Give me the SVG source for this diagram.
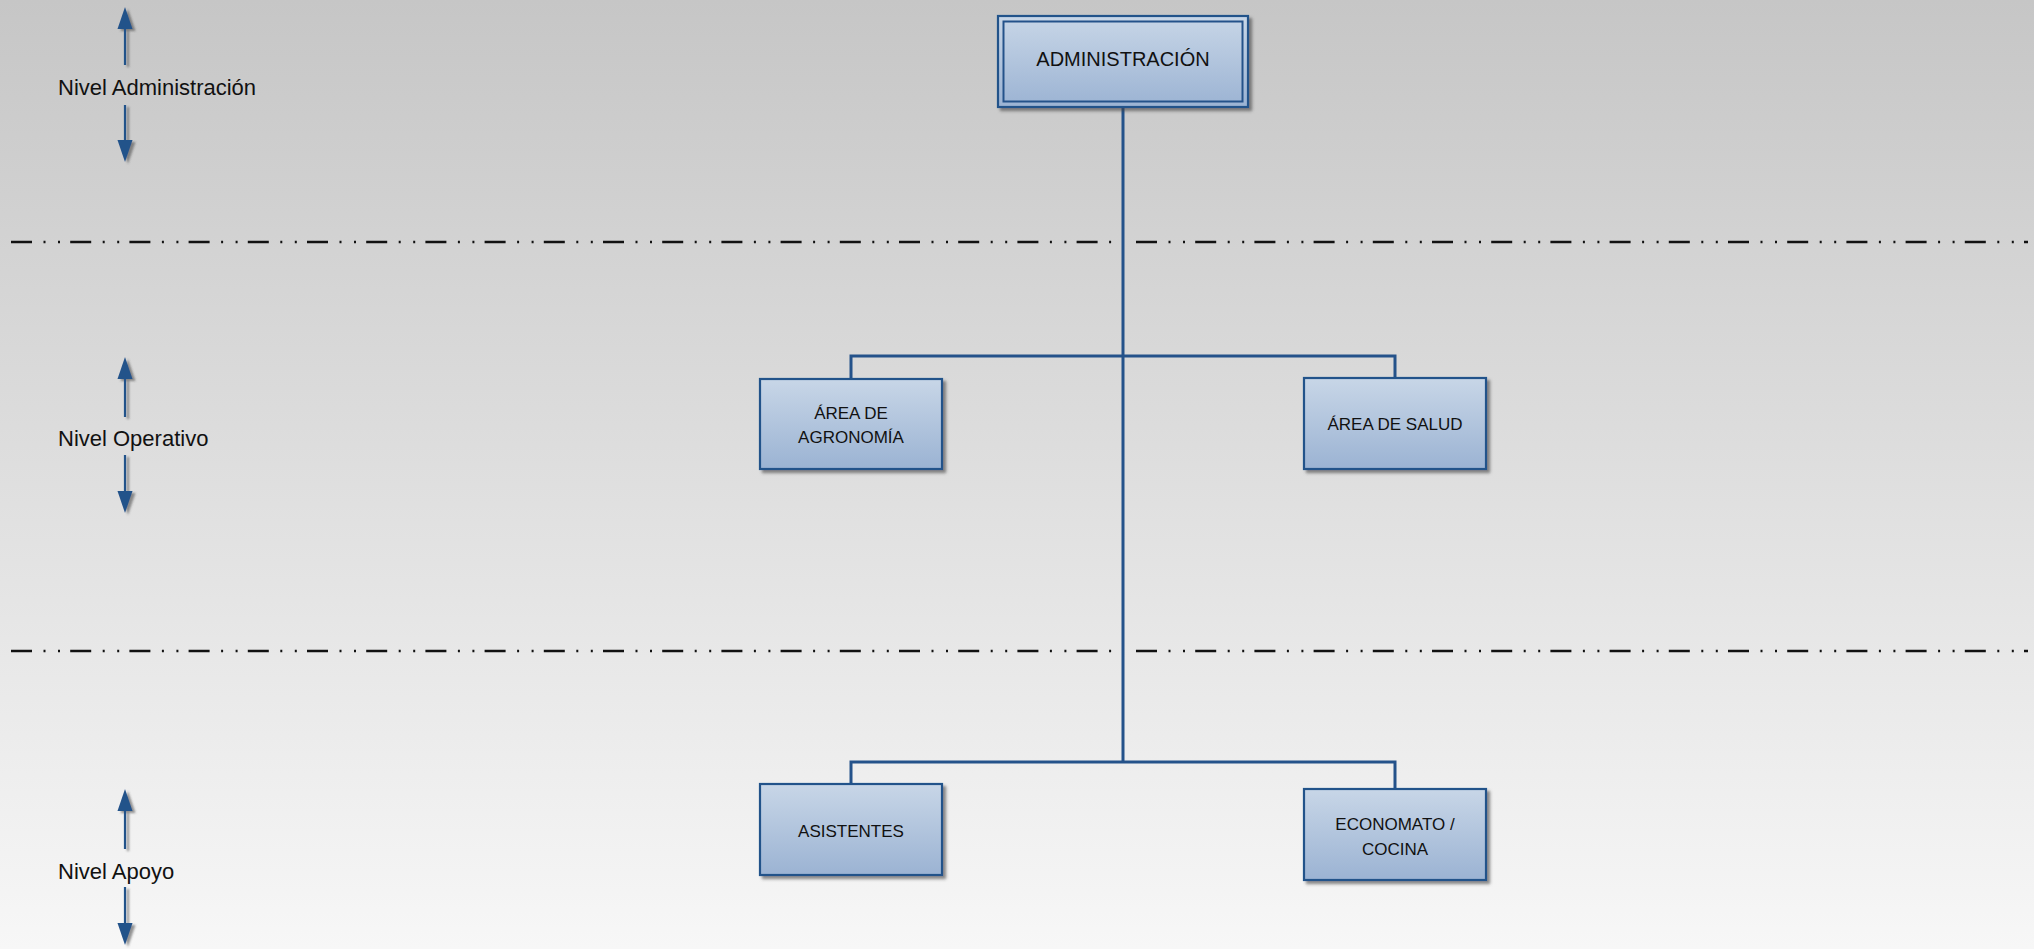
<svg xmlns="http://www.w3.org/2000/svg" width="2034" height="949" viewBox="0 0 2034 949">
<defs>
<linearGradient id="bg" x1="0" y1="0" x2="0" y2="1">
<stop offset="0" stop-color="#c6c6c6"/>
<stop offset="1" stop-color="#f7f7f7"/>
</linearGradient>
<linearGradient id="box" x1="0" y1="0" x2="0" y2="1">
<stop offset="0" stop-color="#c8d6e7"/>
<stop offset="1" stop-color="#9bb3d3"/>
</linearGradient>
<filter id="sh" x="-10%" y="-10%" width="130%" height="140%">
<feDropShadow dx="3" dy="3" stdDeviation="1.8" flood-color="#404040" flood-opacity="0.6"/>
</filter>
<filter id="ash" x="-50%" y="-10%" width="250%" height="130%">
<feDropShadow dx="3" dy="2" stdDeviation="1.2" flood-color="#404040" flood-opacity="0.55"/>
</filter>
<style>
.box{fill:url(#box);stroke:#24528a;stroke-width:2.2}
.lbl{font-family:"Liberation Sans",Arial,sans-serif;font-size:17px;fill:#111;text-anchor:middle}
.lvl{font-family:"Liberation Sans",Arial,sans-serif;font-size:22px;fill:#111}
.con{stroke:#24528a;stroke-width:3;fill:none}
.sep{stroke:#111;stroke-width:2.4;stroke-dasharray:21 11.5 2 12.5 2 10.2;fill:none}
.shaft{stroke:#24528a;stroke-width:2.2}
.head{fill:#24528a}
</style>
</defs>
<rect x="0" y="0" width="2034" height="949" fill="url(#bg)"/>

<g id="separators">
<line class="sep" x1="11" y1="242" x2="1112" y2="242"/>
<line class="sep" x1="1136" y1="242" x2="2028" y2="242"/>
<line class="sep" x1="11" y1="651" x2="1112" y2="651"/>
<line class="sep" x1="1136" y1="651" x2="2028" y2="651"/>
</g>

<g id="level-admin">
<g filter="url(#ash)">
<line class="shaft" x1="125" y1="27" x2="125" y2="65"/>
<polygon class="head" points="125,7 117.5,29 132.5,29"/>
<line class="shaft" x1="125" y1="105" x2="125" y2="142"/>
<polygon class="head" points="125,162 117.5,140 132.5,140"/>
</g>
<text class="lvl" x="58" y="95">Nivel Administración</text>
</g>

<g id="level-operativo">
<g filter="url(#ash)">
<line class="shaft" x1="125" y1="377" x2="125" y2="417"/>
<polygon class="head" points="125,357 117.5,379 132.5,379"/>
<line class="shaft" x1="125" y1="455" x2="125" y2="493"/>
<polygon class="head" points="125,513 117.5,491 132.5,491"/>
</g>
<text class="lvl" x="58" y="446">Nivel Operativo</text>
</g>

<g id="level-apoyo">
<g filter="url(#ash)">
<line class="shaft" x1="125" y1="809" x2="125" y2="849"/>
<polygon class="head" points="125,789 117.5,811 132.5,811"/>
<line class="shaft" x1="125" y1="887" x2="125" y2="925"/>
<polygon class="head" points="125,945 117.5,923 132.5,923"/>
</g>
<text class="lvl" x="58" y="879">Nivel Apoyo</text>
</g>

<g id="connectors">
<line class="con" x1="1123" y1="107" x2="1123" y2="763"/>
<polyline class="con" points="851,379 851,356 1395,356 1395,378"/>
<polyline class="con" points="851,784 851,762 1395,762 1395,789"/>
</g>

<g id="node-administracion">
<rect class="box" x="998" y="16" width="250" height="91" filter="url(#sh)"/>
<rect x="1003.5" y="21.5" width="239" height="80" fill="none" stroke="#24528a" stroke-width="2"/>
<text class="lbl" x="1123" y="66" style="font-size:20px">ADMINISTRACIÓN</text>
</g>

<g id="node-agronomia">
<rect class="box" x="760" y="379" width="182" height="90" filter="url(#sh)"/>
<text class="lbl" x="851" y="419">ÁREA DE</text>
<text class="lbl" x="851" y="443">AGRONOMÍA</text>
</g>

<g id="node-salud">
<rect class="box" x="1304" y="378" width="182" height="91" filter="url(#sh)"/>
<text class="lbl" x="1395" y="430">ÁREA DE SALUD</text>
</g>

<g id="node-asistentes">
<rect class="box" x="760" y="784" width="182" height="91" filter="url(#sh)"/>
<text class="lbl" x="851" y="837">ASISTENTES</text>
</g>

<g id="node-economato">
<rect class="box" x="1304" y="789" width="182" height="91" filter="url(#sh)"/>
<text class="lbl" x="1395" y="830">ECONOMATO /</text>
<text class="lbl" x="1395" y="855">COCINA</text>
</g>
</svg>
